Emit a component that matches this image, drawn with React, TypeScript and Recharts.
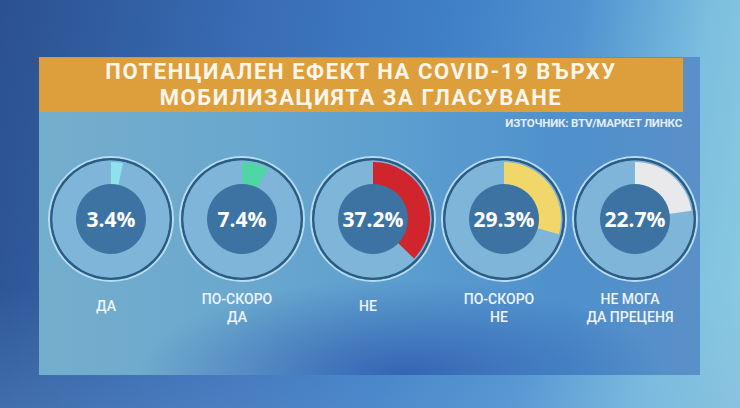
import React from "react";
import { PieChart, Pie, Cell } from "recharts";

const categories = [["ДА"], ["ПО-СКОРО", "ДА"], ["НЕ"], ["ПО-СКОРО", "НЕ"], ["НЕ МОГА", "ДА ПРЕЦЕНЯ"]];
const values = [3.4, 7.4, 37.2, 29.3, 22.7];
const arcColors = ["#8fe1ec", "#4fd5a6", "#d0252d", "#f1d76a", "#e9e9ec"];
const titleLines = ["ПОТЕНЦИАЛЕН ЕФЕКТ НА COVID-19 ВЪРХУ", "МОБИЛИЗАЦИЯТА ЗА ГЛАСУВАНЕ"];
const sourceText = "ИЗТОЧНИК: BTV/МАРКЕТ ЛИНКС";

const W = 740;
const H = 408;
const CY = 214;
const X0 = 106;
const STEP = 131;

const one = [{ v: 1 }];

export default function App() {
  return (
    <div
      style={{
        position: "absolute",
        left: 0,
        top: 0,
        width: W,
        height: H,
        overflow: "hidden",
        fontFamily: "Roboto, sans-serif",
        background:
          "linear-gradient(180deg, rgba(0,0,0,0) 70%, rgba(120,170,220,0.25) 100%), linear-gradient(100deg, #2b5190 0%, #386bb3 30%, #3f7fc6 55%, #4f92d0 72%, #7cbfdf 88%, #8ccbe0 100%)",
      }}
    >
      {/* panel */}
      <div
        style={{
          position: "absolute",
          left: 39,
          top: 57,
          width: 661,
          height: 318,
          background:
            "radial-gradient(ellipse 40% 30% at 55% 100%, rgba(45,90,175,0.85), rgba(45,90,175,0) 100%), linear-gradient(to right, #74aecd 0%, #6aa8ce 30%, #5c9ecf 55%, #4f90cc 80%, #5a90c8 100%)",
        }}
      />
      {/* title banner */}
      <div
        style={{
          position: "absolute",
          left: 39,
          top: 58,
          width: 644,
          height: 54,
          background: "#dd9e3c",
          color: "#fdf6ea",
          fontWeight: 700,
          fontSize: 22,
          lineHeight: "26px",
          textAlign: "center",
          paddingTop: 1,
          boxSizing: "border-box",
          letterSpacing: 1.6,
        }}
      >
        {titleLines.map((t) => (
          <div key={t}>{t}</div>
        ))}
      </div>
      <div
        style={{
          position: "absolute",
          right: 58,
          top: 116,
          color: "#e4eef6",
          fontSize: 11.5,
          fontWeight: 700,
          letterSpacing: -0.2,
        }}
      >
        {sourceText}
      </div>

      <div style={{ position: "absolute", left: 0, top: 0 }}>
        <PieChart width={W} height={H}>
          {values.map((v, i) => {
            const cx = X0 + i * STEP;
            return (
              <React.Fragment key={i}>
                <Pie data={one} dataKey="v" cx={cx} cy={CY} innerRadius={61} outerRadius={63} fill="#b7dcef" stroke="none" isAnimationActive={false} />
                <Pie data={one} dataKey="v" cx={cx} cy={CY} innerRadius={58.5} outerRadius={61} fill="#2b5c84" stroke="none" isAnimationActive={false} />
                <Pie data={one} dataKey="v" cx={cx} cy={CY} innerRadius={34} outerRadius={58.5} fill="#7fb5d8" stroke="none" isAnimationActive={false} />
                <Pie
                  data={[{ v }, { v: 100 - v }]}
                  dataKey="v"
                  cx={cx}
                  cy={CY}
                  innerRadius={34}
                  outerRadius={57}
                  startAngle={90}
                  endAngle={-270}
                  stroke="none"
                  isAnimationActive={false}
                >
                  <Cell fill={arcColors[i]} />
                  <Cell fill="rgba(0,0,0,0)" />
                </Pie>
                <Pie
                  data={one}
                  dataKey="v"
                  cx={cx}
                  cy={CY}
                  innerRadius={0}
                  outerRadius={35}
                  fill="#3c73a2"
                  stroke="none"
                  isAnimationActive={false}
                  labelLine={false}
                  label={(p: any) => (
                    <text
                      x={p.cx}
                      y={p.cy}
                      textAnchor="middle"
                      dominantBaseline="central"
                      fill="#ffffff"
                      fontFamily="'Open Sans', sans-serif"
                      fontWeight={700}
                      fontSize={21}
                    >
                      {v}%
                    </text>
                  )}
                />
              </React.Fragment>
            );
          })}
        </PieChart>
      </div>

      {categories.map((lines, i) => (
        <div
          key={i}
          style={{
            position: "absolute",
            left: X0 + i * STEP - 60,
            width: 120,
            top: lines.length === 1 ? 297 : 290,
            textAlign: "center",
            color: "#eef4fa",
            fontSize: 14,
            lineHeight: "18px",
            fontWeight: 500,
          }}
        >
          {lines.map((l) => (
            <div key={l}>{l}</div>
          ))}
        </div>
      ))}
    </div>
  );
}
